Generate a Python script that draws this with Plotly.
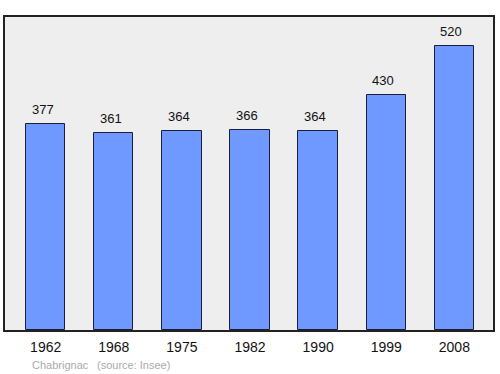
import plotly.graph_objects as go

years = ["1962", "1968", "1975", "1982", "1990", "1999", "2008"]
population = [377, 361, 364, 366, 364, 430, 520]
commune = "Chabrignac"
source_note = "(source: Insee)"

idx = list(range(len(years)))
FONT = "Liberation Sans, Arial, sans-serif"

fig = go.Figure()
fig.add_trace(go.Bar(
    x=idx, y=population, width=0.577,
    marker=dict(color="#7099ff", line=dict(color="#1c1c3c", width=1)),
    hoverinfo="skip",
))

for i, v in zip(idx, population):
    fig.add_annotation(x=i, y=v, text=str(v), showarrow=False,
                       yanchor="bottom", yshift=5, xshift=-3,
                       font=dict(family=FONT, size=13, color="#111111"))

fig.add_annotation(xref="paper", yref="paper", x=(30-5)/490, y=-(365-330)/313,
                   xanchor="left", yanchor="middle", showarrow=False,
                   text=commune, font=dict(family=FONT, size=11, color="#aaaaaa"))
fig.add_annotation(xref="paper", yref="paper", x=(95-5)/490, y=-(365-330)/313,
                   xanchor="left", yanchor="middle", showarrow=False,
                   text=source_note, font=dict(family=FONT, size=11, color="#aaaaaa"))

fig.update_layout(
    width=500, height=374,
    margin=dict(l=5, r=5, t=17, b=44),
    paper_bgcolor="white", plot_bgcolor="#eeeeee",
    showlegend=False,
    bargap=0,
    xaxis=dict(range=[-0.597, 6.567], tickvals=idx, ticktext=years,
               showgrid=False, zeroline=False, ticks="",
               ticklabelstandoff=3,
               tickfont=dict(family=FONT, size=14, color="#111111"),
               showline=True, linecolor="#222222", linewidth=1.5, mirror=True,
               fixedrange=True),
    yaxis=dict(range=[0, 573], showticklabels=False, showgrid=False,
               zeroline=False, ticks="",
               showline=True, linecolor="#222222", linewidth=1.5, mirror=True,
               fixedrange=True),
)

fig.write_html("out.html")
